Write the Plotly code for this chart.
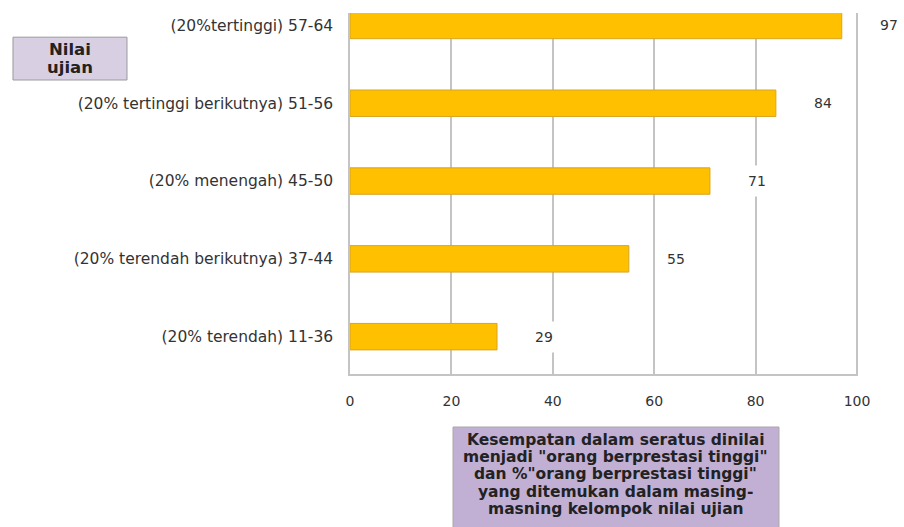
import plotly.graph_objects as go

# Test-score groups (bottom to top) and chance in a hundred of being a high achiever
groups = [
    "(20% terendah) 11-36",
    "(20% terendah berikutnya) 37-44",
    "(20% menengah) 45-50",
    "(20% tertinggi berikutnya) 51-56",
    "(20%tertinggi) 57-64",
]
chances = [29, 55, 71, 84, 97]
x_ticks = [0, 20, 40, 60, 80, 100]

caption_lines = [
    "Kesempatan dalam seratus dinilai",
    "menjadi \"orang berprestasi tinggi\"",
    "dan %\"orang berprestasi tinggi\"",
    "yang ditemukan dalam masing-",
    "masning kelompok nilai ujian",
]
box_title_lines = ["Nilai", "ujian"]

FONT = "DejaVu Sans, Verdana, sans-serif"
TEXT = "#333333"
GRID = "#c4c4c4"

fig = go.Figure(
    go.Bar(
        x=chances,
        y=groups,
        orientation="h",
        width=0.34,
        marker=dict(color="#ffc000", line=dict(color="#d9a520", width=1)),
        hoverinfo="x+y",
    )
)

# Value labels with a white backing that breaks the gridlines behind them
for g, v in zip(groups, chances):
    fig.add_annotation(
        x=v, y=g, xref="x", yref="y",
        text=str(v), showarrow=False,
        xanchor="left", yanchor="middle", xshift=30,
        bgcolor="white", borderpad=7,
        font=dict(family=FONT, size=14, color=TEXT),
    )

# "Nilai ujian" caption box
fig.add_shape(
    type="rect", xref="paper", yref="paper",
    x0=-0.6634, x1=-0.439, y0=0.8144, y1=0.933,
    fillcolor="#d8cfe3", line=dict(color="#9a9a9a", width=1),
)
for i, line in enumerate(box_title_lines):
    fig.add_annotation(
        x=-0.5512, y=0.8737, xref="paper", yref="paper",
        xanchor="center", yanchor="middle", yshift=9 - 18 * i,
        text=f"<b>{line}</b>", showarrow=False,
        font=dict(family=FONT, size=16.5, color="#222222"),
    )

# Axis description box under the chart
fig.add_shape(
    type="rect", xref="paper", yref="paper",
    x0=0.2028, x1=0.8445, y0=-0.43, y1=-0.1468,
    fillcolor="#c1b0d4", line=dict(color="#a9a9a9", width=1),
)
for i, line in enumerate(caption_lines):
    fig.add_annotation(
        x=0.5236, y=-0.1468, xref="paper", yref="paper",
        xanchor="center", yanchor="middle", yshift=-13 - 17.2 * i,
        text=f"<b>{line}</b>", showarrow=False,
        font=dict(family=FONT, size=15.5, color="#222222"),
    )

fig.update_layout(
    width=904, height=527,
    margin=dict(l=350, r=46, t=13, b=153),
    paper_bgcolor="white", plot_bgcolor="white",
    showlegend=False,
    font=dict(family=FONT, size=14, color=TEXT),
    xaxis=dict(
        range=[0, 100.2], tickvals=x_ticks, ticktext=[str(t) for t in x_ticks],
        showgrid=True, gridcolor=GRID, gridwidth=1.5,
        zeroline=False, showline=True, linecolor=GRID, linewidth=1.5,
        ticks="", ticklabelstandoff=13,
        tickfont=dict(family=FONT, size=14, color=TEXT),
        fixedrange=True,
    ),
    yaxis=dict(
        range=[-0.48, 4.16], categoryorder="array", categoryarray=groups,
        showgrid=False, zeroline=False,
        showline=True, linecolor=GRID, linewidth=1.5,
        ticks="", ticklabelstandoff=12,
        tickfont=dict(family=FONT, size=15.5, color=TEXT),
        fixedrange=True,
    ),
)

fig.write_html("out.html")
